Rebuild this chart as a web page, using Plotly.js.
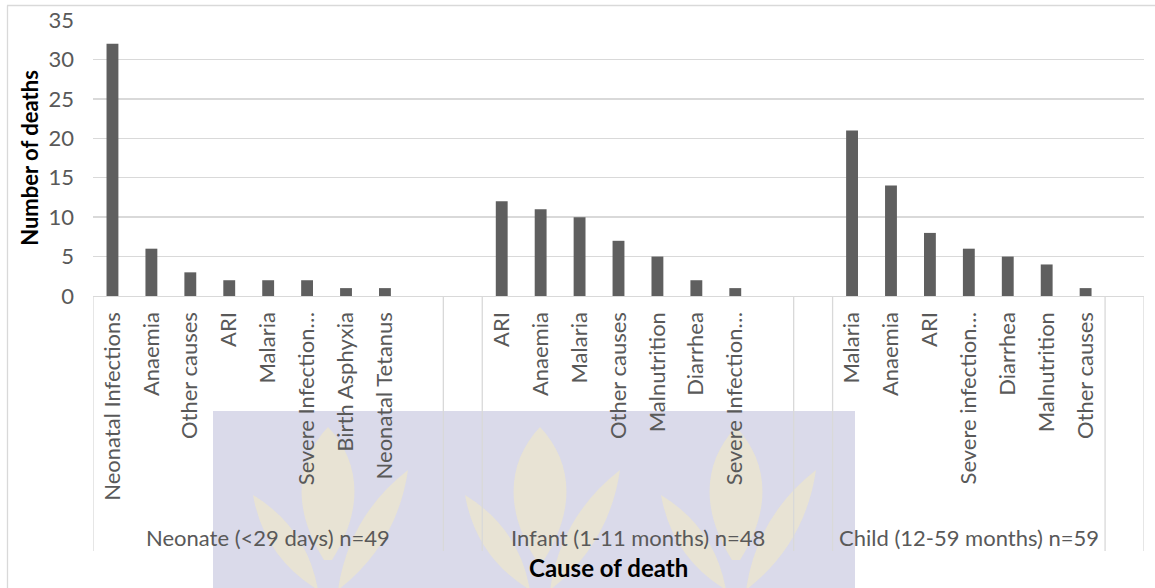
<!DOCTYPE html>
<html>
<head>
<meta charset="utf-8">
<script src="https://cdn.plot.ly/plotly-3.0.1.min.js"></script>
<style>
  html, body { margin: 0; padding: 0; background: #ffffff; }
  #chart { width: 1155px; height: 588px; }
</style>
</head>
<body>
<div id="chart"></div>
<script>
// ---------------- data ----------------
const groupLabels = [
  "Neonate (<29 days) n=49",
  "Infant (1-11 months) n=48",
  "Child (12-59 months) n=59"
];
const neonateCauses = ["Neonatal Infections", "Anaemia", "Other causes", "ARI", "Malaria", "Severe Infection…", "Birth Asphyxia", "Neonatal Tetanus"];
const neonateDeaths = [32, 6, 3, 2, 2, 2, 1, 1];
const infantCauses = ["ARI", "Anaemia", "Malaria", "Other causes", "Malnutrition", "Diarrhea", "Severe Infection…"];
const infantDeaths = [12, 11, 10, 7, 5, 2, 1];
const childCauses = ["Malaria", "Anaemia", "ARI", "Severe infection…", "Diarrhea", "Malnutrition", "Other causes"];
const childDeaths = [21, 14, 8, 6, 5, 4, 1];
const yTickValues = [0, 5, 10, 15, 20, 25, 30, 35];
const yAxisTitle = "Number of deaths";
const xAxisTitle = "Cause of death";

// ---------------- layout of the category slots (empty rows of the source sheet) ----------------
const groupCauses = [neonateCauses, infantCauses, childCauses];
const groupDeaths = [neonateDeaths, infantDeaths, childDeaths];
const emptySlotsInGroup = [1, 1, 0];
const emptySlotsAfterGroup = 1;

const xs = [], ys = [], tickvals = [], ticktext = [];
const boundaries = [-0.5];
const groupCenters = [];
let idx = 0;
groupCauses.forEach((causes, g) => {
  const start = idx;
  causes.forEach((c, i) => {
    const id = "g" + g + "_" + i;
    xs.push(id); ys.push(groupDeaths[g][i]);
    tickvals.push(id); ticktext.push(c);
    idx++;
  });
  for (let k = 0; k < emptySlotsInGroup[g]; k++) { xs.push("g" + g + "_pad" + k); ys.push(null); idx++; }
  groupCenters.push((start + idx - 1) / 2);
  boundaries.push(idx - 0.5);
  for (let k = 0; k < emptySlotsAfterGroup; k++) { xs.push("gap" + g + "_" + k); ys.push(null); idx++; }
  boundaries.push(idx - 0.5);
});
const nSlots = idx;

// ---------------- styling ----------------
const FONT = "Lato, 'Open Sans', sans-serif";
const TXT = "#595959";
const GRID = "#d9d9d9";
const W = 1155, H = 588;
const M = { l: 93, r: 11, t: 20, b: 292 };
const PW = W - M.l - M.r, PH = H - M.t - M.b;
const px = x => (x - M.l) / PW;          // pixel -> paper (decoration only)
const py = y => (H - M.b - y) / PH;

const shapes = [];
// outer chart frame
shapes.push({ type: "line", xref: "paper", yref: "paper", x0: px(7), x1: px(1160), y0: py(5.5), y1: py(5.5), line: { color: GRID, width: 1.3 }, layer: "below" });
shapes.push({ type: "line", xref: "paper", yref: "paper", x0: px(7.5), x1: px(7.5), y0: py(5.5), y1: py(600), line: { color: GRID, width: 1.3 }, layer: "below" });

// faint watermark in the label area
shapes.push({ type: "rect", xref: "paper", yref: "paper", x0: px(213), x1: px(855), y0: py(411), y1: py(600), fillcolor: "#dadaea", line: { width: 0 }, layer: "below" });
function leaf(cx, tipY, w, baseY) {
  const midY = tipY + (baseY - tipY) * 0.62;
  return `M ${px(cx)},${py(tipY)} C ${px(cx + w * 0.55)},${py(tipY + 35)} ${px(cx + w * 0.6)},${py(midY)} ${px(cx + 4)},${py(baseY)} L ${px(cx - 4)},${py(baseY)} C ${px(cx - w * 0.6)},${py(midY)} ${px(cx - w * 0.55)},${py(tipY + 35)} ${px(cx)},${py(tipY)} Z`;
}
function sideLeaf(x0, y0, x1, y1, w) {
  const mx = (x0 + x1) / 2, my = (y0 + y1) / 2;
  const dx = x1 - x0, dy = y1 - y0, L = Math.hypot(dx, dy);
  const nx = -dy / L * w, ny = dx / L * w;
  return `M ${px(x0)},${py(y0)} Q ${px(mx + nx)},${py(my + ny)} ${px(x1)},${py(y1)} Q ${px(mx - nx)},${py(my - ny)} ${px(x0)},${py(y0)} Z`;
}
const LEAF = "rgba(236,229,204,0.75)";
[328, 540, 736].forEach(cx => {
  shapes.push({ type: "path", xref: "paper", yref: "paper", path: leaf(cx, 427, 60, 560), fillcolor: LEAF, line: { width: 0 }, layer: "below" });
  shapes.push({ type: "path", xref: "paper", yref: "paper", path: sideLeaf(cx - 10, 590, cx - 75, 495, 26), fillcolor: LEAF, line: { width: 0 }, layer: "below" });
  shapes.push({ type: "path", xref: "paper", yref: "paper", path: sideLeaf(cx + 10, 590, cx + 80, 470, 28), fillcolor: LEAF, line: { width: 0 }, layer: "below" });
});

// category-axis dividers
boundaries.forEach(b => {
  shapes.push({ type: "line", xref: "x", yref: "paper", x0: b, x1: b, y0: 0, y1: py(551), line: { color: GRID, width: 1.3 }, layer: "below" });
});

const annotations = groupLabels.map((g, i) => ({
  xref: "x", yref: "paper", x: groupCenters[i], y: py(537),
  text: g, showarrow: false, xanchor: "center", yanchor: "middle",
  font: { family: FONT, size: 22, color: TXT }
}));
annotations.push({
  xref: "paper", yref: "paper", x: px(608), y: py(567),
  text: "<b>" + xAxisTitle + "</b>", showarrow: false, xanchor: "center", yanchor: "middle",
  font: { family: FONT, size: 24, color: "#000000" }
});

const trace = {
  type: "bar",
  x: xs,
  y: ys,
  marker: { color: "#5f5f5f", line: { width: 0 } },
  hoverinfo: "skip"
};

const layout = {
  width: W, height: H,
  margin: M,
  paper_bgcolor: "#ffffff",
  plot_bgcolor: "rgba(0,0,0,0)",
  showlegend: false,
  bargap: 0.695,
  font: { family: FONT, color: TXT, size: 22 },
  xaxis: {
    type: "category",
    categoryorder: "array",
    categoryarray: xs,
    range: [-0.5, nSlots - 0.5],
    tickmode: "array",
    tickvals: tickvals,
    ticktext: ticktext,
    tickangle: -90,
    ticks: "",
    ticklabelstandoff: 6,
    tickfont: { family: FONT, size: 22, color: TXT },
    showgrid: false,
    zeroline: false,
    showline: true,
    linecolor: GRID,
    linewidth: 1.3,
    fixedrange: true
  },
  yaxis: {
    range: [0, 35],
    tickmode: "array",
    tickvals: yTickValues,
    ticks: "",
    ticklabelstandoff: 18,
    tickfont: { family: FONT, size: 22, color: TXT },
    showgrid: true,
    gridcolor: GRID,
    gridwidth: 1.3,
    zeroline: false,
    showline: false,
    title: { text: "<b>" + yAxisTitle + "</b>", font: { family: FONT, size: 22, color: "#000000" }, standoff: 3 },
    fixedrange: true
  },
  shapes: shapes,
  annotations: annotations
};

Plotly.newPlot("chart", [trace], layout, { displayModeBar: false, staticPlot: true });
</script>
</body>
</html>
